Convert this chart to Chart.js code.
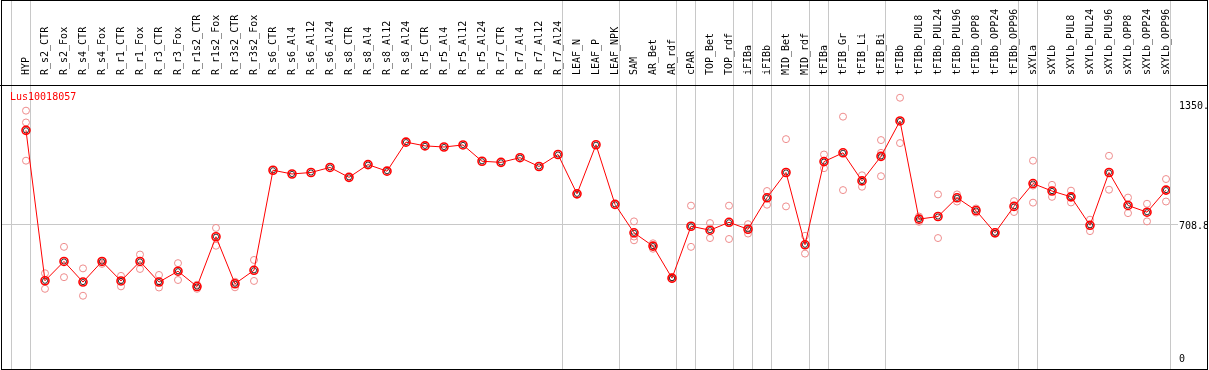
<!DOCTYPE html>
<html>
<head>
<meta charset="utf-8">
<script src="https://cdn.jsdelivr.net/npm/chart.js@4/dist/chart.umd.min.js"></script>
<style>
  html, body { margin: 0; padding: 0; background: #fff; }
  canvas { display: block; }
</style>
</head>
<body>
<canvas id="chart" width="1209" height="370"></canvas>
<script>
// categories (samples)
const categories = ['HYP', 'R_s2_CTR', 'R_s2_Fox', 'R_s4_CTR', 'R_s4_Fox', 'R_r1_CTR', 'R_r1_Fox',
  'R_r3_CTR', 'R_r3_Fox', 'R_r1s2_CTR', 'R_r1s2_Fox', 'R_r3s2_CTR', 'R_r3s2_Fox',
  'R_s6_CTR', 'R_s6_Al4', 'R_s6_Al12', 'R_s6_Al24', 'R_s8_CTR', 'R_s8_Al4', 'R_s8_Al12', 'R_s8_Al24',
  'R_r5_CTR', 'R_r5_Al4', 'R_r5_Al12', 'R_r5_Al24', 'R_r7_CTR', 'R_r7_Al4', 'R_r7_Al12', 'R_r7_Al24',
  'LEAF_N', 'LEAF_P', 'LEAF_NPK', 'SAM', 'AR_Bet', 'AR_rdf', 'cPAR', 'TOP_Bet', 'TOP_rdf',
  'iFIBa', 'iFIBb', 'MID_Bet', 'MID_rdf', 'tFIBa', 'tFIB_Gr', 'tFIB_Li', 'tFIB_Bi', 'tFIBb',
  'tFIBb_PUL8', 'tFIBb_PUL24', 'tFIBb_PUL96', 'tFIBb_OPP8', 'tFIBb_OPP24', 'tFIBb_OPP96',
  'sXYLa', 'sXYLb', 'sXYLb_PUL8', 'sXYLb_PUL24', 'sXYLb_PUL96', 'sXYLb_OPP8', 'sXYLb_OPP24', 'sXYLb_OPP96'];

// mean expression (red line)
const means = [1212, 409, 512, 402, 512, 408, 512, 402, 460, 378, 644, 393, 465,
  999, 979, 987, 1014, 961, 1029, 994, 1149, 1129, 1123, 1134, 1047, 1041, 1066, 1019, 1083,
  873, 1135, 817,
  665, 594, 423, 700, 679, 721, 684, 852, 987, 601, 1045, 1092, 942, 1073, 1262,
  738, 752, 852, 784, 665, 806,
  928, 888, 857, 705, 987, 811, 775, 893];

// replicates (pink circles), null = no replicate
const rep1 = [1317, 449, 590, 475, 515, 435, 549, 440, 503, 388, 691, 404, 520,
  null, null, null, null, null, null, null, null, null, null, null, null, null, null, null, null,
  null, null, null,
  726, 609, 428, 810, 717, 810, 711, 888, 1165, 649, 1083, 1285, 972, 1160, 1386,
  752, 870, 870, 795, 670, 834,
  1050, 921, 890, 735, 1076, 853, 820, 952];
const rep2 = [1050, 366, 428, 329, 499, 379, 472, 373, 413, 366, 596, 374, 408,
  null, null, null, null, null, null, null, null, null, null, null, null, null, null, null, null,
  null, null, null,
  625, 580, 418, 590, 637, 632, 661, 815, 806, 554, 1010, 893, 911, 967, 1144,
  724, 637, 832, 773, 660, 776,
  826, 857, 827, 674, 895, 770, 726, 832];
const rep3 = [1254, null, null, null, null, null, null, null, null, null, null, null, null,
  null, null, null, null, null, null, null, null, null, null, null, null, null, null, null, null,
  null, null, null,
  645, null, null, null, null, null, null, null, null, null, null, null, null, 1092, null,
  null, null, null, null, null, null,
  917, null, null, null, null, null, null, null];

// y tick values and labels
const yTickValues = [0, 708.8, 1350];
const yTickLabels = ['0', '708.8', '1350.'];

// index of the last sample in each group (gray separators)
const groupEnds = [-1, 0, 28, 31, 34, 35, 37, 38, 39, 41, 42, 45, 52, 53, 60];

const FONT = { family: 'DejaVu Sans Mono', size: 10 };
const pink = 'rgb(238,140,140)';

const toXY = arr => arr.map((v, i) => ({ x: i, y: v }));

// separators + outer frame + title
const framePlugin = {
  id: 'frame',
  beforeDatasetsDraw(chart) {
    const ctx = chart.ctx;
    const xs = chart.scales.x;
    ctx.save();
    ctx.strokeStyle = '#c8c8c8';
    ctx.lineWidth = 1;
    groupEnds.forEach(g => {
      const px = Math.round(xs.getPixelForValue(g + 0.23)) + 0.5;
      ctx.beginPath();
      ctx.moveTo(px, 0);
      ctx.lineTo(px, chart.height);
      ctx.stroke();
    });
    ctx.restore();
  },
  afterDraw(chart) {
    const ctx = chart.ctx;
    const a = chart.chartArea;
    ctx.save();
    ctx.strokeStyle = '#000';
    ctx.lineWidth = 1;
    ctx.strokeRect(1.5, 0.5, chart.width - 3, chart.height - 1);
    ctx.beginPath();
    ctx.moveTo(0, a.top + 0.5);
    ctx.lineTo(chart.width - 2, a.top + 0.5);
    ctx.stroke();
    ctx.fillStyle = '#ff0000';
    ctx.font = '10px "DejaVu Sans Mono"';
    ctx.textBaseline = 'middle';
    ctx.fillText('Lus10018057', 10, a.top + 12);
    ctx.restore();
  }
};

const repStyle = {
  showLine: false,
  pointStyle: 'circle',
  pointRadius: 3.5,
  pointBorderWidth: 1,
  pointBorderColor: pink,
  pointBackgroundColor: 'rgba(0,0,0,0)',
  order: 3
};

new Chart(document.getElementById('chart'), {
  type: 'line',
  data: {
    datasets: [
      {
        data: toXY(means),
        borderColor: '#ff0000',
        borderWidth: 1,
        pointStyle: 'circle',
        pointRadius: 4,
        pointBorderWidth: 1.6,
        pointBorderColor: '#ff0000',
        pointBackgroundColor: 'rgba(0,0,0,0)',
        order: 0
      },
      {
        data: toXY(means),
        showLine: false,
        pointStyle: 'circle',
        pointRadius: 2.6,
        pointBorderWidth: 0.8,
        pointBorderColor: '#000',
        pointBackgroundColor: 'rgba(0,0,0,0)',
        order: 1
      },
      Object.assign({ data: toXY(rep1) }, repStyle),
      Object.assign({ data: toXY(rep2) }, repStyle),
      Object.assign({ data: toXY(rep3) }, repStyle)
    ]
  },
  options: {
    responsive: false,
    animation: false,
    devicePixelRatio: 1,
    layout: { autoPadding: false, padding: { left: 2, right: 2, top: 0, bottom: 1 } },
    plugins: {
      legend: { display: false },
      tooltip: { enabled: false }
    },
    scales: {
      x: {
        type: 'linear',
        position: 'top',
        min: -1.263,
        max: 60.21,
        afterBuildTicks: s => { s.ticks = categories.map((c, i) => ({ value: i })); },
        afterFit: s => { s.height = 85; s.paddingLeft = 0; s.paddingRight = 0; },
        grid: { display: false },
        border: { display: true, color: '#000' },
        ticks: {
          autoSkip: false,
          minRotation: 90,
          maxRotation: 90,
          padding: 2,
          labelOffset: 12,
          color: '#000',
          font: FONT,
          callback: v => categories[v]
        }
      },
      y: {
        position: 'right',
        min: -30,
        max: 1454,
        afterBuildTicks: s => { s.ticks = yTickValues.map(v => ({ value: v })); },
        afterFit: s => { s.width = 37; },
        grid: {
          color: c => (c.tick && c.tick.value === 708.8) ? '#c8c8c8' : 'rgba(0,0,0,0)',
          tickLength: 8
        },
        border: { display: true, color: '#c8c8c8' },
        ticks: {
          padding: 1,
          labelOffset: 2,
          color: '#000',
          font: FONT,
          callback: (v, i) => yTickLabels[i]
        }
      }
    }
  },
  plugins: [framePlugin]
});
</script>
</body>
</html>
